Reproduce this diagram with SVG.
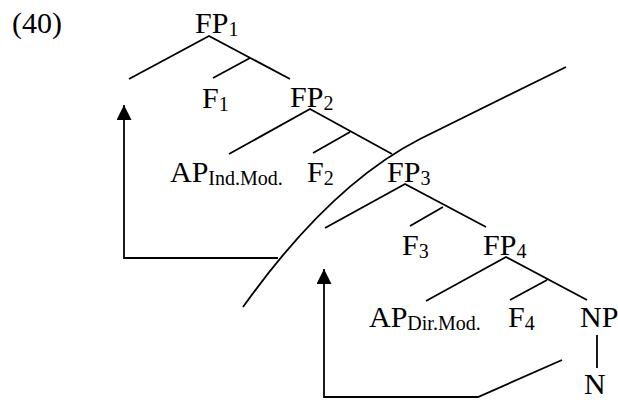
<svg xmlns="http://www.w3.org/2000/svg" width="618" height="400" viewBox="0 0 618 400">
  <style>
    .lbl { font-family: "Liberation Serif", "Times New Roman", serif; font-size: 30px; fill: #000; }
    .sub { font-size: 20px; }
    .edge { stroke: #000; stroke-width: 1.8; fill: none; stroke-linecap: butt; }
  </style>
  <defs>
    <marker id="arrow" markerUnits="userSpaceOnUse" markerWidth="16" markerHeight="16" refX="15" refY="7.5" orient="auto">
      <path d="M0,0 L15,7.5 L0,15 z" fill="#000"/>
    </marker>
  </defs>
  <rect width="618" height="400" fill="#fff"/>

  <text class="lbl" x="12" y="33">(40)</text>

  <g id="FP1"><text class="lbl" x="195" y="33">FP<tspan class="sub" dy="3">1</tspan></text></g>
  <g id="F1"><text class="lbl" x="202" y="108">F<tspan class="sub" dy="3">1</tspan></text></g>
  <g id="FP2"><text class="lbl" x="290" y="107">FP<tspan class="sub" dy="3">2</tspan></text></g>
  <g id="AP-ind"><text class="lbl" x="170" y="182">AP<tspan class="sub" dy="3" font-size="21">Ind.Mod.</tspan></text></g>
  <g id="F2"><text class="lbl" x="307" y="182">F<tspan class="sub" dy="3">2</tspan></text></g>
  <g id="FP3"><text class="lbl" x="387" y="182">FP<tspan class="sub" dy="3">3</tspan></text></g>
  <g id="F3"><text class="lbl" x="402" y="255">F<tspan class="sub" dy="3">3</tspan></text></g>
  <g id="FP4"><text class="lbl" x="483" y="255">FP<tspan class="sub" dy="3">4</tspan></text></g>
  <g id="AP-dir"><text class="lbl" x="369" y="327">AP<tspan class="sub" dy="3">Dir.Mod.</tspan></text></g>
  <g id="F4"><text class="lbl" x="508" y="327">F<tspan class="sub" dy="3">4</tspan></text></g>
  <g id="NP"><text class="lbl" x="580" y="327">NP</text></g>
  <g id="N"><text class="lbl" x="584" y="394">N</text></g>

  <g id="connectors">
    <!-- tree branches -->
    <path class="edge" d="M129,79 L209,36 L290,79 M250,58 L213,78"/>
    <path class="edge" d="M229,154 L310,109 L392,154 M350,132 L313,153"/>
    <path class="edge" d="M325,228 L405,184 L486,227 M443,207 L410,226"/>
    <path class="edge" d="M426,301 L506,257 L587,300 M547,280 L510,300"/>
    <path class="edge" d="M597,335 L597,368"/>
    <!-- boundary curve -->
    <path class="edge" d="M566,67 L420,139 Q330,185 243,307"/>
    <!-- movement arrows -->
    <path class="edge" d="M278,258 L124,258 L124,105" marker-end="url(#arrow)"/>
    <path class="edge" d="M562,360 L478,397 L324,397 L324,269" marker-end="url(#arrow)"/>
  </g>
</svg>
